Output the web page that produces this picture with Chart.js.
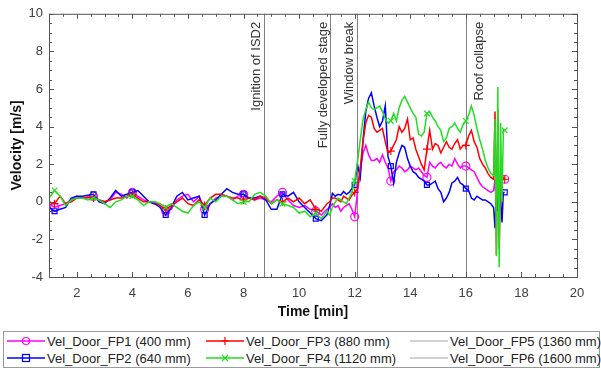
<!DOCTYPE html>
<html>
<head>
<meta charset="utf-8">
<script src="https://cdn.jsdelivr.net/npm/chart.js@4"></script>
<style>
html, body { margin: 0; padding: 0; background: #fff; }
#wrap { position: relative; width: 601px; height: 371px; font-family: 'Liberation Sans', Arial, sans-serif; }
#chart-box { position: absolute; left: 0; top: 0; width: 601px; height: 326px; }
#legend { position: absolute; left: 3px; top: 331px; width: 597px; height: 37px; border: 1px solid #9a9a9a; box-sizing: border-box; background: #fff; }
.leg-item { position: absolute; display: flex; align-items: center; height: 16px; font-size: 13px; color: #222; white-space: nowrap; }
.leg-item svg { margin-right: 2px; }
</style>
</head>
<body>
<div id="wrap">
    <div id="chart-box"><canvas id="velocity-chart"></canvas></div>
    <div id="legend"></div>
</div>
<script>
// Time samples [min]
const times = [
    1.0, 1.2, 1.4, 1.6, 1.8, 2.0, 2.2, 2.4, 2.6, 2.8,
    3.0, 3.2, 3.4, 3.6, 3.8, 4.0, 4.2, 4.4, 4.6, 4.8,
    5.0, 5.2, 5.4, 5.6, 5.8, 6.0, 6.2, 6.4, 6.6, 6.8,
    7.0, 7.2, 7.4, 7.6, 7.8, 8.0, 8.2, 8.4, 8.6, 8.8,
    9.0, 9.2, 9.4, 9.6, 9.8, 10.0, 10.2, 10.4, 10.6, 10.8, 11.0,
    11.1, 11.2, 11.3, 11.4, 11.5, 11.6, 11.7, 11.8, 11.9, 12.0,
    12.1, 12.2, 12.3, 12.4, 12.5, 12.6, 12.7, 12.8, 12.9, 13.0,
    13.1, 13.2, 13.3, 13.4, 13.5, 13.6, 13.7, 13.8, 13.9, 14.0,
    14.1, 14.2, 14.3, 14.4, 14.5, 14.6, 14.7, 14.8, 14.9, 15.0,
    15.1, 15.2, 15.3, 15.4, 15.5, 15.6, 15.7, 15.8, 15.9, 16.0,
    16.1, 16.2, 16.3, 16.4, 16.5, 16.6, 16.7, 16.8, 16.9,
    17.0, 17.05, 17.1, 17.15, 17.2, 17.25, 17.3, 17.35, 17.4
];

// Velocity [m/s]
const fp1 = [
    -0.1, -0.3, -0.2, -0.1, 0.1, 0.3, 0.2, 0.2, 0.3, 0.1,
    0.0, 0.1, 0.5, 0.4, 0.2, 0.5, 0.3, 0.1, 0.0, -0.1,
    -0.2, -0.5, -0.4, 0.1, 0.3, 0.4, 0.0, 0.3, -0.4, -0.1,
    0.2, 0.3, 0.3, 0.1, 0.3, 0.4, 0.2, 0.1, 0.2, 0.1,
    0.0, 0.3, 0.5, 0.1, -0.2, -0.3, -0.2, -0.4, -0.5, -0.7, -0.4,
    -0.3, -0.1, -0.3, -0.2, -0.5, -0.3, -0.2, -0.1, -0.4, -0.8,
    0.5, 1.6, 2.6, 3.0, 2.5, 2.2, 2.2, 2.3, 2.1, 2.5,
    2.1, 1.8, 1.1, 1.6, 1.7, 1.9, 1.8, 1.6, 1.7, 1.9,
    1.8, 1.7, 1.8, 1.6, 1.4, 1.3, 2.1, 1.9, 1.8, 2.0,
    2.1, 1.9, 1.8, 2.0, 1.9, 2.3, 2.0, 1.8, 1.9, 1.9,
    1.8, 1.7, 1.6, 1.3, 1.0, 0.8, 0.7, 0.6, 0.5,
    0.6, 1.2, -0.5, 1.5, 0.2, 1.0, 1.2, 1.2, 1.2
];
const fp2 = [
    -0.3, -0.5, -0.4, -0.3, 0.2, 0.3, 0.3, 0.35, 0.4, 0.0,
    -0.1, 0.2, 0.6, 0.3, 0.4, 0.5, 0.6, 0.3, 0.0, -0.1,
    -0.3, -0.7, -0.3, 0.3, 0.5, 0.1, 0.2, 0.3, -0.7, -0.1,
    0.1, 0.4, 0.7, 0.5, 0.4, 0.4, 0.2, 0.2, 0.3, 0.1,
    -0.4, -0.4, 0.4, 0.3, 0.5, 0.0, -0.3, -0.6, -0.9, -1.0, -0.7,
    -0.2, 0.45, 0.3, 0.4, 0.35, 0.55, 0.4, 0.5, 0.7, 0.9,
    2.0, 1.3, 3.3, 4.8, 5.5, 5.8, 5.1, 4.5, 4.0, 4.3,
    5.1, 2.4, 1.9, 1.0, 2.1, 2.6, 3.0, 2.9, 2.3, 1.9,
    1.6, 1.5, 1.3, 1.2, 1.1, 0.9, 0.9, 1.0, 1.1, 0.7,
    0.5, 0.0, 0.2, 0.5, 1.0, 1.1, 1.3, 1.0, 0.9, 0.7,
    0.6, 0.2, 0.1, 0.3, 0.2, 0.1, 0.1, 0.0, -0.1,
    -0.3, -1.4, 0.5, -0.5, 0.8, 0.2, -1.1, 0.5, 0.5
];
const fp3 = [
    0.0, -0.1, 0.3, -0.1, 0.0, 0.2, 0.2, 0.25, 0.2, 0.1,
    0.0, 0.1, 0.2, 0.2, 0.3, 0.4, 0.2, 0.0, 0.0, 0.0,
    -0.2, -0.4, -0.2, 0.0, 0.2, -0.1, -0.2, 0.1, -0.2, 0.2,
    0.4, 0.4, 0.3, 0.2, 0.2, 0.1, 0.2, 0.1, 0.3, 0.2,
    -0.1, 0.1, 0.0, 0.2, 0.0, 0.2, -0.1, 0.1, -0.4, -0.5, -0.1,
    0.0, 0.2, 0.2, 0.1, 0.0, 0.3, 0.2, 0.1, 0.35, 0.5,
    0.7, 1.8, 3.2, 4.2, 4.6, 4.5, 3.9, 3.7, 3.8, 3.9,
    3.2, 2.6, 2.7, 3.0, 3.3, 4.0, 3.7, 3.9, 4.4, 3.3,
    3.4, 2.8, 2.4, 2.0, 1.7, 2.8, 3.8, 2.8, 3.1, 3.0,
    2.6, 2.9, 3.2, 2.9, 2.8, 3.1, 3.3, 2.8, 3.0, 3.0,
    3.5, 3.8, 3.2, 2.9, 2.3, 2.0, 1.8, 1.5, 1.3,
    1.2, 4.8, -2.8, 4.9, -2.5, 1.5, 1.0, 1.3, 1.2
];
const fp4 = [
    0.2, 0.6, 0.3, -0.2, 0.1, 0.2, 0.2, 0.1, 0.2, 0.1,
    -0.1, -0.3, 0.0, 0.1, 0.3, 0.3, 0.1, -0.2, 0.0, 0.0,
    -0.1, -0.3, -0.1, -0.3, -0.5, -0.6, -0.2, 0.0, -0.3, 0.2,
    0.0, 0.3, 0.3, 0.1, -0.1, 0.0, 0.0, 0.4, 0.5, 0.3,
    -0.1, 0.1, -0.1, -0.2, -0.3, -0.6, -0.5, -0.8, -0.6, -0.9, -0.5,
    -0.7, -0.3, 0.0, 0.2, 0.1, 0.0, -0.1, 0.2, 0.5, 1.1,
    2.1, 3.3, 4.4, 4.9, 5.3, 5.0, 4.9, 5.0, 5.1, 4.8,
    4.4, 4.2, 4.3, 4.7, 4.3, 5.0, 5.4, 5.6, 5.3, 5.0,
    4.7, 4.5, 3.6, 3.5, 3.7, 4.7, 4.8, 4.5, 4.3, 4.0,
    3.8, 3.2, 3.4, 3.9, 4.0, 4.2, 3.9, 3.7, 4.1, 4.3,
    4.6, 5.1, 4.6, 3.9, 3.3, 2.8, 2.2, 1.8, 1.5,
    1.4, 4.4, -2.9, 6.1, -3.5, 4.2, 0.0, 3.8, 3.8
];

// Times at which the marker symbols are drawn
const markerTimes = [1.2, 2.6, 4.0, 5.2, 6.6, 8.0, 9.4, 10.6, 12.0, 13.3, 14.6, 16.0, 17.4];

const seriesNames = [
    'Vel_Door_FP1 (400 mm)', 'Vel_Door_FP2 (640 mm)', 'Vel_Door_FP3 (880 mm)',
    'Vel_Door_FP4 (1120 mm)', 'Vel_Door_FP5 (1360 mm)', 'Vel_Door_FP6 (1600 mm)'
];

const xTicks = [2, 4, 6, 8, 10, 12, 14, 16, 18, 20];
const yTicks = [-4, -2, 0, 2, 4, 6, 8, 10];

const eventTimes = [8.75, 11.1, 12.1, 16.0];
const eventLabels = ['Ignition of ISD2', 'Fully developed stage', 'Window break', 'Roof collapse'];

// Styles
const seriesColors = ['#ff00ff', '#0000ff', '#ff0000', '#22dd22', '#8c8c8c', '#8c8c8c'];
const seriesMarkers = ['circle', 'rect', 'cross', 'crossRot', null, null];
const FONT = "'Liberation Sans', Arial, sans-serif";

const toPoints = vals => vals.map((v, i) => ({ x: times[i], y: v }));
const markerSize = r => ctx => markerTimes.includes(times[ctx.dataIndex]) ? r : 0;

const makeDataset = (idx, values, order) => ({
    label: seriesNames[idx],
    data: values ? toPoints(values) : [],
    borderColor: seriesColors[idx],
    borderWidth: values ? 1.5 : 1,
    pointStyle: seriesMarkers[idx] || false,
    pointRadius: seriesMarkers[idx] ? markerSize(seriesMarkers[idx] === 'rect' ? 3.5 : 4) : 0,
    pointBorderColor: seriesColors[idx],
    pointBackgroundColor: 'rgba(0,0,0,0)',
    pointBorderWidth: 1.2,
    tension: 0,
    order: order
});

// Box with inward major/minor ticks on all four sides
const frameTicks = {
    id: 'frameTicks',
    afterDatasetsDraw(chart) {
        const { ctx, chartArea: a, scales: { x, y } } = chart;
        ctx.save();
        ctx.strokeStyle = '#555';
        ctx.lineWidth = 1;
        ctx.strokeRect(a.left + 0.5, a.top + 0.5, a.right - a.left, a.bottom - a.top);
        ctx.beginPath();
        for (let v = x.min; v <= x.max + 1e-9; v += 0.5) {
            const px = Math.round(x.getPixelForValue(v)) + 0.5;
            const len = Number.isInteger(v / 2) ? 5 : 3;
            ctx.moveTo(px, a.bottom); ctx.lineTo(px, a.bottom - len);
            ctx.moveTo(px, a.top); ctx.lineTo(px, a.top + len);
        }
        for (let v = y.min; v <= y.max + 1e-9; v += 0.5) {
            const py = Math.round(y.getPixelForValue(v)) + 0.5;
            const len = Number.isInteger(v / 2) ? 5 : 3;
            ctx.moveTo(a.left, py); ctx.lineTo(a.left + len, py);
            ctx.moveTo(a.right, py); ctx.lineTo(a.right - len, py);
        }
        ctx.stroke();
        ctx.restore();
    }
};

// Vertical event markers with rotated labels
const eventLines = {
    id: 'eventLines',
    beforeDatasetsDraw(chart, args, opts) {
        const { ctx, chartArea: a, scales: { x } } = chart;
        ctx.save();
        ctx.strokeStyle = '#808080';
        ctx.lineWidth = 1;
        ctx.font = '13px ' + FONT;
        ctx.fillStyle = '#333';
        ctx.textAlign = 'right';
        ctx.textBaseline = 'alphabetic';
        eventTimes.forEach((t, i) => {
            const px = Math.round(x.getPixelForValue(t)) + 0.5;
            ctx.beginPath();
            ctx.moveTo(px, a.top);
            ctx.lineTo(px, a.bottom);
            ctx.stroke();
            ctx.save();
            ctx.translate(px + opts.labelDx[i], a.top + 8);
            ctx.rotate(-Math.PI / 2);
            ctx.fillText(eventLabels[i], 0, 0);
            ctx.restore();
        });
        ctx.restore();
    }
};

const initializeChart = () => {
    const canvas = document.getElementById('velocity-chart');
    new Chart(canvas.getContext('2d'), {
        type: 'line',
        data: {
            datasets: [
                makeDataset(0, fp1, 4),
                makeDataset(1, fp2, 3),
                makeDataset(2, fp3, 2),
                makeDataset(3, fp4, 1),
                makeDataset(4, null, 5),
                makeDataset(5, null, 6)
            ]
        },
        options: {
            responsive: true,
            maintainAspectRatio: false,
            animation: false,
            events: [],
            layout: { padding: { top: 9, right: 24, left: 0, bottom: 0 } },
            plugins: {
                legend: { display: false },
                tooltip: { enabled: false },
                eventLines: { labelDx: [-5, -4, -5, 16] }
            },
            scales: {
                x: {
                    type: 'linear',
                    min: 1,
                    max: 20,
                    afterBuildTicks: axis => { axis.ticks = xTicks.map(v => ({ value: v })); },
                    afterFit: axis => { axis.height = 49; },
                    grid: { display: false, drawTicks: false },
                    border: { display: false },
                    ticks: { color: '#404040', padding: 9, font: { family: FONT, size: 13 } },
                    title: {
                        display: true,
                        text: 'Time [min]',
                        color: '#111',
                        padding: { top: 0, bottom: 5 },
                        font: { family: FONT, size: 14, weight: 'bold' }
                    }
                },
                y: {
                    min: -4,
                    max: 10,
                    afterBuildTicks: axis => { axis.ticks = yTicks.map(v => ({ value: v })); },
                    afterFit: axis => { axis.width = 49; },
                    grid: { display: false, drawTicks: false },
                    border: { display: false },
                    ticks: { color: '#404040', padding: 6, font: { family: FONT, size: 13 } },
                    title: {
                        display: true,
                        text: 'Velocity [m/s]',
                        color: '#111',
                        padding: { top: 9, bottom: 0 },
                        font: { family: FONT, size: 14, weight: 'bold' }
                    }
                }
            }
        },
        plugins: [frameTicks, eventLines]
    });
};

// Legend sample symbol (line + marker)
const legendSymbol = (color, marker, thin) => {
    const w = 38, h = 12, cx = 19, cy = 6;
    let m = '';
    if (marker === 'circle') m = `<circle cx="${cx}" cy="${cy}" r="3.5" fill="none" stroke="${color}" stroke-width="1.2"/>`;
    if (marker === 'rect') m = `<rect x="${cx - 3.5}" y="${cy - 3.5}" width="7" height="7" fill="none" stroke="${color}" stroke-width="1.2"/>`;
    if (marker === 'cross') m = `<path d="M${cx} ${cy - 4}V${cy + 4}M${cx - 4} ${cy}H${cx + 4}" stroke="${color}" stroke-width="1.2"/>`;
    if (marker === 'crossRot') m = `<path d="M${cx - 3} ${cy - 3}L${cx + 3} ${cy + 3}M${cx - 3} ${cy + 3}L${cx + 3} ${cy - 3}" stroke="${color}" stroke-width="1.2"/>`;
    return `<svg width="${w}" height="${h}"><line x1="0" y1="${cy}" x2="${w}" y2="${cy}" stroke="${color}" stroke-width="${thin ? 0.8 : 1.5}"/>${m}</svg>`;
};

const initializeLegend = () => {
    const legend = document.getElementById('legend');
    const colLeft = [3, 202, 406];
    const rowTop = [1, 18];
    seriesNames.forEach((name, i) => {
        const item = document.createElement('div');
        item.className = 'leg-item';
        item.style.left = colLeft[Math.floor(i / 2)] + 'px';
        item.style.top = rowTop[i % 2] + 'px';
        item.innerHTML = legendSymbol(seriesColors[i], seriesMarkers[i], !seriesMarkers[i]) + '<span>' + name + '</span>';
        legend.appendChild(item);
    });
};

document.addEventListener('DOMContentLoaded', () => {
    initializeChart();
    initializeLegend();
});
</script>
</body>
</html>
